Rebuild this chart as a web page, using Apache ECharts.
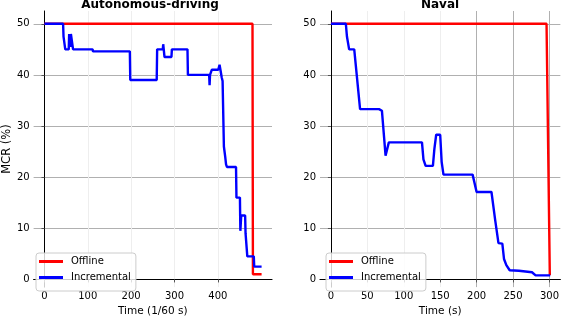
<!DOCTYPE html>
<html>
<head>
    <meta charset="utf-8">
    <title>MCR over time</title>
    <script src="https://cdn.jsdelivr.net/npm/echarts@6/dist/echarts.min.js"></script>
    <style>
        html, body { margin: 0; padding: 0; background: #fff; }
    </style>
</head>
<body>
    <div id="main" style="width: 562px;height:322px;"></div>
    <script type="text/javascript">
        // ticks
        let mcrTicks = [0, 10, 20, 30, 40, 50];
        let adTicks = [0, 100, 200, 300, 400];
        let navTicks = [0, 50, 100, 150, 200, 250, 300];

        // Autonomous-driving, time in 1/60 s
        let adOfflineT   = [0, 480, 481, 501];
        let adOfflineMcr = [50, 50, 1, 1];
        let adIncT   = [0, 43, 44, 47, 48, 56, 57, 59, 60, 61, 65, 66, 111, 112, 197, 198, 259, 260, 273, 274, 276, 277, 293, 294, 330, 331, 380, 381, 382, 386, 401, 404, 406, 409, 411, 414, 417, 419, 421, 442, 443, 451, 452, 454, 463, 464, 466, 468, 483, 484, 501];
        let adIncMcr = [50, 50, 47.5, 47.5, 45, 45, 48, 48, 45.5, 48, 48, 45, 45, 44.6, 44.6, 39, 39, 45, 45, 46, 46, 43.5, 43.5, 45, 45, 40, 40, 38, 40, 41, 41, 42, 41, 39.5, 38.8, 26, 24, 22.5, 22, 22, 16, 16, 9.5, 12.5, 12.5, 9, 9, 4.5, 4.5, 2.5, 2.5];

        // Naval, time in s
        let navOfflineT   = [0, 296, 300.5];
        let navOfflineMcr = [50, 50, 0.8];
        let navIncT   = [0, 20.5, 22, 25, 32, 34.5, 40, 66, 70, 75, 79.5, 125, 127, 130, 140, 142, 144.5, 150, 152, 154.5, 194.5, 200, 220.4, 225.4, 230, 235.3, 237.6, 240.8, 245.4, 258, 259, 276, 281, 301];
        let navIncMcr = [50, 50, 47.5, 45, 45, 45.2, 33.3, 33.3, 33, 24.2, 26.8, 26.8, 23.5, 22.2, 22.2, 25.5, 28.3, 28.3, 23, 20.5, 20.5, 17.1, 17.1, 11.7, 7.1, 7, 4, 2.8, 1.8, 1.7, 1.4, 1.4, 0.8, 0.8];

        function zip(xs, ys) {
          return xs.map((x, i) => [x, ys[i]]);
        }

        var font = 'DejaVu Sans';
        var lightEdge = '#d0d0d0';
        var gridGray = '#b0b0b0';

        function bottomAxis(grid, min, max, ticks, name, splitColors) {
          return {
            type: 'value', gridIndex: grid, position: 'bottom', min: min, max: max,
            name: name, nameLocation: 'middle', nameGap: 15,
            nameTextStyle: { fontFamily: font, fontSize: 10.5, color: '#000' },
            axisLine: { show: true, lineStyle: { color: lightEdge, width: 1 } },
            axisTick: { show: true, length: 3, customValues: ticks, lineStyle: { color: '#555' } },
            axisLabel: { customValues: ticks, margin: 4, fontFamily: font, fontSize: 10, color: '#000' },
            splitLine: { show: true, lineStyle: { color: splitColors, width: 1 } }
          };
        }
        function topAxis(grid, min, max) {
          return {
            type: 'value', gridIndex: grid, position: 'top', min: min, max: max,
            axisLine: { show: true, lineStyle: { color: '#000', width: 1 } },
            axisTick: { show: false }, axisLabel: { show: false }, splitLine: { show: false }
          };
        }
        function leftAxis(grid, name) {
          return {
            type: 'value', gridIndex: grid, position: 'left', min: -1.5, max: 52.5,
            name: name, nameLocation: 'middle', nameGap: 17,
            nameTextStyle: { fontFamily: font, fontSize: 11.5, color: '#000' },
            axisLine: { show: true, lineStyle: { color: lightEdge, width: 1 } },
            axisTick: { show: true, length: 3, customValues: mcrTicks, lineStyle: { color: '#555' } },
            axisLabel: { customValues: mcrTicks, margin: 4, fontFamily: font, fontSize: 10, color: '#000' },
            splitLine: { show: true, lineStyle: { color: gridGray, width: 1 } }
          };
        }
        function rightAxis(grid) {
          return {
            type: 'value', gridIndex: grid, position: 'right', min: -1.5, max: 52.5,
            axisLine: { show: true, lineStyle: { color: '#000', width: 1 } },
            axisTick: { show: false }, axisLabel: { show: false }, splitLine: { show: false }
          };
        }
        function lineSeries(name, color, xi, yi, data, z) {
          return {
            name: name, type: 'line', xAxisIndex: xi, yAxisIndex: yi,
            data: data, showSymbol: false, symbol: 'none', z: z,
            color: color, lineStyle: { color: color, width: 2.4 }
          };
        }
        function legendAt(left) {
          return {
            data: ['Offline', 'Incremental'], orient: 'vertical',
            left: left, top: 253, itemWidth: 24, itemHeight: 3, itemGap: 4,
            icon: 'rect', padding: [2.5, 5, 7.5, 3],
            backgroundColor: 'rgba(255,255,255,0.8)', borderColor: '#cccccc',
            borderWidth: 1, borderRadius: 3,
            textStyle: { fontFamily: font, fontSize: 10, color: '#000', lineHeight: 12, padding: [0, 0, 0, 3] }
          };
        }

        var myChart = echarts.init(document.getElementById('main'), null, { renderer: 'canvas' });
        var option = {
          animation: false,
          backgroundColor: '#fff',
          grid: [
            { left: 30, top: 11, width: 242, height: 283 },
            { left: 320, top: 11, width: 242, height: 283 }
          ],
          xAxis: [
            bottomAxis(0, -25, 525, adTicks, 'Time (1/60 s)', '#eeeeee'),
            topAxis(0, -25, 525),
            bottomAxis(1, -15, 315, navTicks, 'Time (s)',
              ['#eeeeee', '#eeeeee', '#eeeeee', '#eeeeee', gridGray, gridGray, gridGray]),
            topAxis(1, -15, 315)
          ],
          yAxis: [
            leftAxis(0, 'MCR (%)'),
            rightAxis(0),
            leftAxis(1, ''),
            rightAxis(1)
          ],
          legend: [legendAt(36), legendAt(326)],
          series: [
            lineSeries('Offline', '#ff0000', 0, 0, zip(adOfflineT, adOfflineMcr), 2),
            lineSeries('Incremental', '#0000ff', 0, 0, zip(adIncT, adIncMcr), 3),
            lineSeries('Offline', '#ff0000', 2, 2, zip(navOfflineT, navOfflineMcr), 2),
            lineSeries('Incremental', '#0000ff', 2, 2, zip(navIncT, navIncMcr), 3)
          ],
          graphic: [
            { type: 'text', x: 150, y: 4.5, style: { text: 'Autonomous-driving', align: 'center', verticalAlign: 'middle', font: 'bold 12px "DejaVu Sans"', fill: '#000' } },
            { type: 'text', x: 440, y: 4.5, style: { text: 'Naval', align: 'center', verticalAlign: 'middle', font: 'bold 12px "DejaVu Sans"', fill: '#000' } }
          ]
        };
        myChart.setOption(option);
    </script>
</body>
</html>
